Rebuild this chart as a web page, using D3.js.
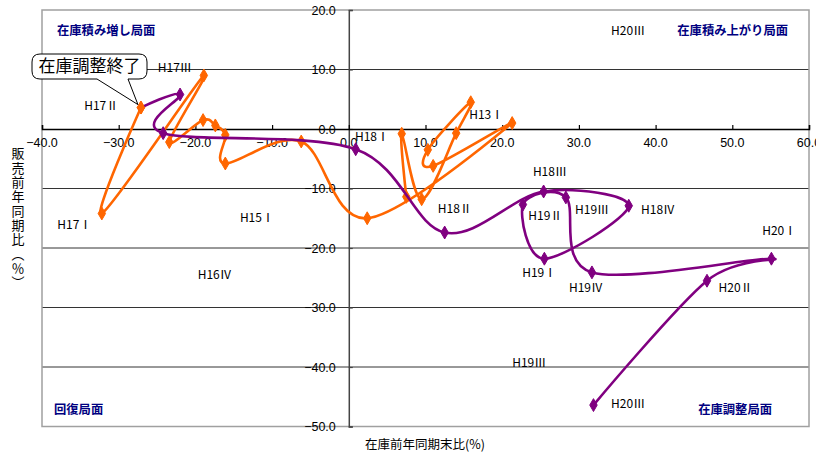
<!DOCTYPE html>
<html>
<head>
<meta charset="utf-8">
<script src="https://cdn.jsdelivr.net/npm/d3@7"></script>
<style>
  html, body { margin: 0; padding: 0; background: #fff; }
  svg { display: block; }
  text { font-family: "Noto Sans CJK JP", "Noto Sans", sans-serif; }
  .num { font-family: "Liberation Sans", Arial, sans-serif; }
  .vtitle { writing-mode: vertical-rl; text-orientation: mixed; }
</style>
</head>
<body>
<svg id="chart" width="816" height="454"></svg>
<script>
// 在庫前年同期末比 (x) と 販売前年同期比 (y), 四半期ごと
const quartersA = ["H13Ⅰ","H13Ⅱ","H13Ⅲ","H13Ⅳ","H14Ⅰ","H14Ⅱ","H14Ⅲ","H14Ⅳ",
                   "H15Ⅰ","H15Ⅱ","H15Ⅲ","H15Ⅳ","H16Ⅰ","H16Ⅱ","H16Ⅲ","H16Ⅳ","H17Ⅰ","H17Ⅱ"];
const stockA = [7.5, 6.9, 9.5, 14.0, 15.9, 10.3, 11.0, 21.3, 2.4, -6.2, -16.1, -16.1, -17.4, -19.0, -23.4, -18.9, -32.2, -27.1];
const salesA = [-11.4, -0.8, -11.8, -0.7, 4.5, -3.5, -6.2, 1.0, -15.0, -2.1, -5.8, -1.0, 0.6, 1.5, -2.2, 9.0, -14.2, 3.6];

const quartersB = ["H17Ⅱ","H17Ⅲ","H17Ⅳ","H18Ⅰ","H18Ⅱ","H18Ⅲ","H18Ⅳ","H19Ⅰ","H19Ⅱ","H19Ⅲ","H19Ⅳ","H20Ⅰ","H20Ⅱ","H20Ⅲ"];
const stockB = [-27.1, -22.0, -24.2, 0.9, 12.5, 25.4, 36.5, 25.5, 22.7, 28.3, 31.7, 55.1, 46.7, 31.9];
const salesB = [3.6, 5.8, -0.7, -3.4, -17.4, -10.5, -12.9, -21.8, -12.7, -11.5, -24.1, -21.8, -25.5, -46.4];

// 軸目盛
const xTicks = [-40, -30, -20, -10, 0, 10, 20, 30, 40, 50, 60];
const yTicks = [20, 10, 0, -10, -20, -30, -40, -50];

// データラベル (文字列と、その左端・中央の値座標)
const labelText = ["H20Ⅲ","H17Ⅲ","H17Ⅱ","H17Ⅰ","H15Ⅰ","H16Ⅳ","H18Ⅰ","H13Ⅰ","H18Ⅱ","H18Ⅲ",
                   "H19Ⅱ","H19Ⅲ","H18Ⅳ","H20Ⅰ","H19Ⅰ","H19Ⅳ","H20Ⅱ","H19Ⅲ","H20Ⅲ"];
const labelX = [34.2, -24.9, -34.5, -38.0, -14.2, -19.7, 0.8, 15.7, 11.6, 24.0,
                23.4, 29.5, 38.1, 53.9, 22.6, 28.7, 48.2, 21.3, 34.2];
const labelY = [16.5, 10.4, 3.9, -16.1, -14.8, -24.4, -1.3, 2.4, -13.4, -7.1,
                -14.5, -13.6, -13.6, -17.0, -24.2, -26.6, -26.6, -39.2, -46.1];

const svg = d3.select("#chart");
const plotL = 42, plotR = 809, plotT = 10, plotB = 426.5;

const x = d3.scaleLinear().domain([-40, 60]).range([plotL, plotR]);
const y = d3.scaleLinear().domain([-50, 20]).range([plotB, plotT]);

// 横グリッド線
svg.append("g").selectAll("line")
  .data(yTicks.filter(v => v !== 0 && v !== 20 && v !== -50))
  .join("line")
  .attr("x1", plotL).attr("x2", plotR)
  .attr("y1", d => y(d)).attr("y2", d => y(d))
  .attr("stroke", "#333").attr("stroke-width", 1);

// プロットエリア枠
svg.append("rect")
  .attr("x", plotL).attr("y", plotT)
  .attr("width", plotR - plotL).attr("height", plotB - plotT)
  .attr("fill", "none").attr("stroke", "#a0a0a0").attr("stroke-width", 1.5);

// 縦軸 (x=0)
const yAxis = d3.axisRight(y).tickValues(yTicks).tickSize(4).tickFormat("");
svg.append("g").attr("transform", `translate(${x(0)},0)`).call(yAxis)
  .call(g => g.select(".domain").attr("stroke", "#444").attr("stroke-width", 1.5))
  .call(g => g.selectAll(".tick line").attr("stroke", "#444").attr("stroke-width", 1.2));

// 横軸 (y=0)
const xAxis = d3.axisTop(x).tickValues(xTicks).tickSize(4).tickFormat("");
svg.append("g").attr("transform", `translate(0,${y(0)})`).call(xAxis)
  .call(g => g.select(".domain").attr("stroke", "#000").attr("stroke-width", 1.5))
  .call(g => g.selectAll(".tick line").attr("stroke", "#000").attr("stroke-width", 1.2));

const fmt = d3.format(".1f");
// 横軸目盛ラベル
svg.append("g").selectAll("text").data(xTicks).join("text")
  .attr("class", "num")
  .attr("x", d => x(d)).attr("y", y(0) + 18)
  .attr("text-anchor", "middle").attr("font-size", 12.5).attr("fill", "#000")
  .text(d => fmt(d));
// 縦軸目盛ラベル
svg.append("g").selectAll("text").data(yTicks).join("text")
  .attr("class", "num")
  .attr("x", x(0) - 13).attr("y", d => y(d) + 4.5)
  .attr("text-anchor", "end").attr("font-size", 12.5).attr("fill", "#000")
  .text(d => fmt(d));

// 系列の描画
const line = d3.line().x(d => x(d[0])).y(d => y(d[1])).curve(d3.curveCardinal.tension(0));
const ptsA = stockA.map((v, i) => [v, salesA[i], quartersA[i]]);
const ptsB = stockB.map((v, i) => [v, salesB[i], quartersB[i]]);
const diamond = d3.symbol().type(d3.symbolDiamond).size(48);

function drawSeries(pts, color, skipFirst) {
  svg.append("path").datum(pts)
    .attr("d", line).attr("fill", "none")
    .attr("stroke", color).attr("stroke-width", 2.6)
    .attr("stroke-linejoin", "round");
  svg.append("g").selectAll("path")
    .data(skipFirst ? pts.slice(1) : pts).join("path")
    .attr("d", diamond)
    .attr("transform", d => `translate(${x(d[0])},${y(d[1])})`)
    .attr("fill", color).attr("stroke", color).attr("stroke-width", 1);
}
drawSeries(ptsA, "#ff6600", false);
drawSeries(ptsB, "#800080", true);
// H17Ⅱ は両系列の接点
svg.append("path").attr("d", diamond)
  .attr("transform", `translate(${x(stockA[17])},${y(salesA[17])})`)
  .attr("fill", "#ff6600").attr("stroke", "#ff6600");

// データラベル
svg.append("g").selectAll("text").data(labelText).join("text")
  .attr("x", (d, i) => x(labelX[i])).attr("y", (d, i) => y(labelY[i]) + 4.5)
  .attr("font-size", 12).attr("fill", "#000")
  .text(d => d);

// 局面名
const phase = [
  { t: "在庫積み増し局面", px: 57, py: 35, anchor: "start" },
  { t: "在庫積み上がり局面", px: 788, py: 35, anchor: "end" },
  { t: "回復局面", px: 54, py: 414, anchor: "start" },
  { t: "在庫調整局面", px: 772, py: 414, anchor: "end" }
];
svg.append("g").selectAll("text").data(phase).join("text")
  .attr("x", d => d.px).attr("y", d => d.py)
  .attr("text-anchor", d => d.anchor)
  .attr("font-size", 12.3).attr("font-weight", "bold").attr("fill", "#000080")
  .text(d => d.t);

// 吹き出し「在庫調整終了」
const tipX = x(stockA[17]) - 3, tipY = y(salesA[17]) - 3;
const bx0 = 32, bx1 = 147, by0 = 54, by1 = 79, r = 8;
const callout = d3.path();
callout.moveTo(bx0 + r, by0);
callout.lineTo(bx1 - r, by0);
callout.quadraticCurveTo(bx1, by0, bx1, by0 + r);
callout.lineTo(bx1, by1 - r);
callout.quadraticCurveTo(bx1, by1, bx1 - r, by1);
callout.lineTo(128, by1);
callout.lineTo(tipX, tipY);
callout.lineTo(97, by1);
callout.lineTo(bx0 + r, by1);
callout.quadraticCurveTo(bx0, by1, bx0, by1 - r);
callout.lineTo(bx0, by0 + r);
callout.quadraticCurveTo(bx0, by0, bx0 + r, by0);
callout.closePath();
svg.append("path").attr("d", callout.toString())
  .attr("fill", "#fff").attr("stroke", "#000").attr("stroke-width", 1);
svg.append("text").attr("x", (bx0 + bx1) / 2).attr("y", 72)
  .attr("text-anchor", "middle").attr("font-size", 17).attr("fill", "#000")
  .text("在庫調整終了");

// 軸タイトル
svg.append("text").attr("x", 425).attr("y", 449)
  .attr("text-anchor", "middle").attr("font-size", 12.5).attr("fill", "#000")
  .text("在庫前年同期末比(%)");
svg.append("text").attr("class", "vtitle")
  .attr("x", 18).attr("y", 147)
  .attr("font-size", 13).attr("letter-spacing", 1.3).attr("fill", "#000")
  .text("販売前年同期比（％）");
</script>
</body>
</html>
